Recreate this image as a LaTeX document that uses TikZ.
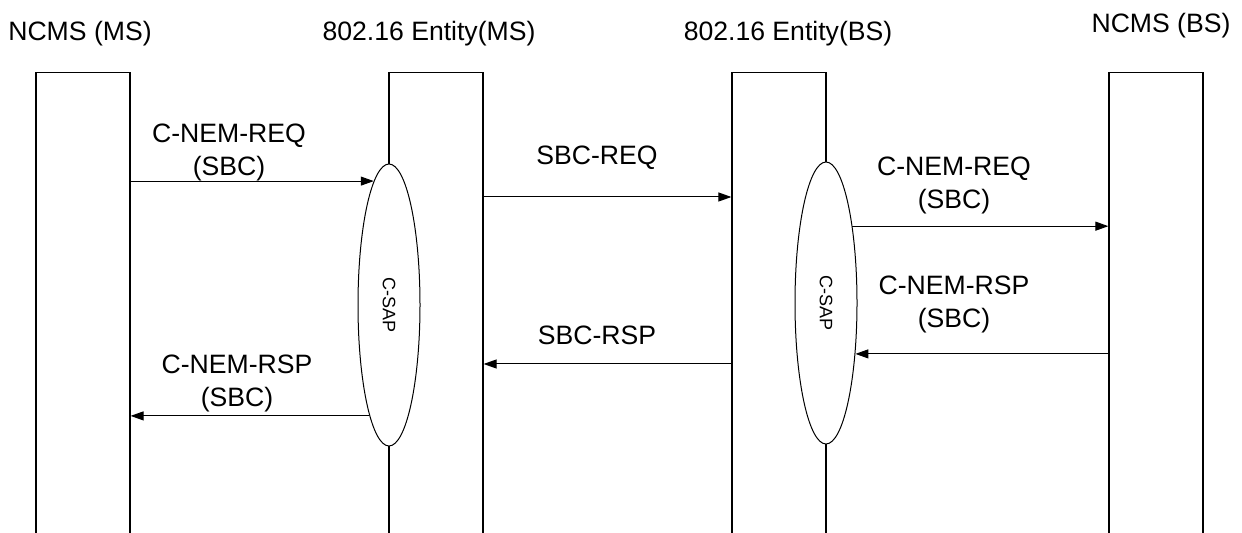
\documentclass[tikz,border=0pt]{standalone}
\usepackage{fontspec}
\setmainfont{Liberation Sans}
\usetikzlibrary{shapes.geometric, arrows.meta}

\begin{document}
\begin{tikzpicture}[x=0.5pt, y=-0.5pt,
  lifeline/.style={rectangle, draw, line width=0.6pt, minimum width=47pt, minimum height=245pt, anchor=north, inner sep=0pt},
  sap/.style={ellipse, draw, fill=white, line width=0.5pt, minimum width=31pt, minimum height=141pt, inner sep=0pt},
  msg/.style={line width=0.5pt, -{Triangle[length=6.5pt, width=4.5pt]}},
  lbl/.style={font=\fontsize{13.3}{16.5}\selectfont, align=center, inner sep=0pt}]
\useasboundingbox (0,0) rectangle (1242,533);

% entities
\node[lbl] (hncmsms) at (80,34) {NCMS (MS)};
\node[lbl] (hentms) at (429,34) {802.16 Entity(MS)};
\node[lbl] (hentbs) at (788,34) {802.16 Entity(BS)};
\node[lbl] (hncmsbs) at (1161,26) {NCMS (BS)};

\node[lifeline] (ncmsms) at (83,72) {};
\node[lifeline] (entms) at (436,72) {};
\node[lifeline] (entbs) at (779,72) {};
\node[lifeline] (ncmsbs) at (1156,72) {};

% service access points
\node[sap] (sapms) at (389,305) {};
\node[sap] (sapbs) at (826,303) {};
\node[rotate=-90, font=\fontsize{9}{10}\selectfont] (sapmstext) at (sapms) {C-SAP};
\node[rotate=-90, font=\fontsize{9}{10}\selectfont] (sapbstext) at (sapbs) {C-SAP};

% messages
\draw[msg] (ncmsms.east |- sapms.97) -- (sapms.97);
\node[lbl] (lreqms) at (229,152) {C-NEM-REQ\\(SBC)};

\draw[msg] (entms.east |- 0,197) -- (entbs.west |- 0,197);
\node[lbl] (lsbcreq) at (597,158) {SBC-REQ};

\draw[msg] (sapbs.71) -- (ncmsbs.west |- sapbs.71);
\node[lbl] (lreqbs) at (954,185) {C-NEM-REQ\\(SBC)};

\draw[msg] (ncmsbs.west |- sapbs.300) -- (sapbs.300);
\node[lbl] (lrspbs) at (954,304) {C-NEM-RSP\\(SBC)};

\draw[msg] (entbs.west |- 0,364) -- (entms.east |- 0,364);
\node[lbl] (lsbcrsp) at (597,335) {SBC-RSP};

\draw[msg] (sapms.260) -- (ncmsms.east |- sapms.260);
\node[lbl] (lrspms) at (237,383) {C-NEM-RSP\\(SBC)};

\end{tikzpicture}
\end{document}
